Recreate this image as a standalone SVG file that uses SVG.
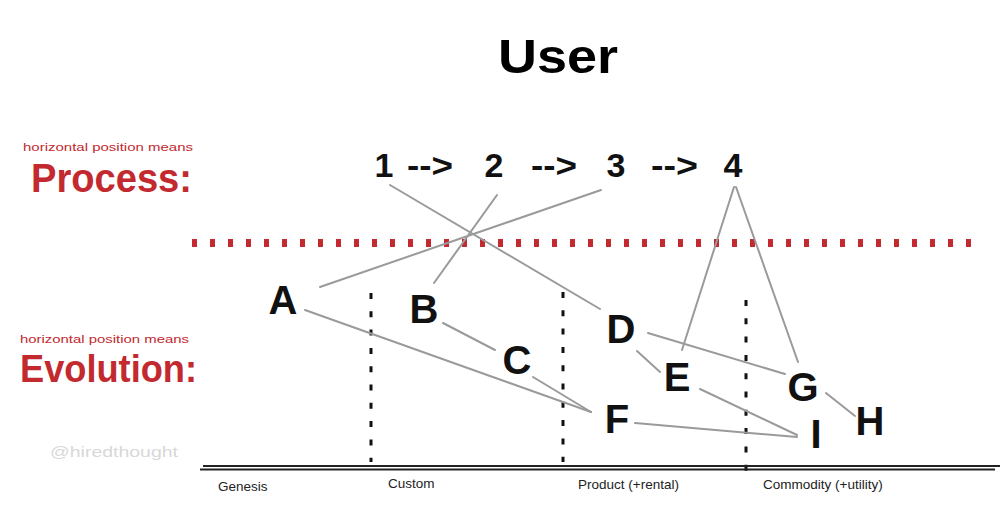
<svg xmlns="http://www.w3.org/2000/svg" width="1001" height="515" viewBox="0 0 1001 515">
<style>
.node{font-family:"Liberation Sans","DejaVu Sans",sans-serif;font-size:40px;font-weight:bold;fill:#111;text-anchor:middle}
.proc{font-family:"Liberation Sans","DejaVu Sans",sans-serif;font-size:34px;font-weight:bold;fill:#111}
.red{font-family:"Liberation Sans","DejaVu Sans",sans-serif;fill:#c22a2f}
.axis{font-family:"Liberation Sans","DejaVu Sans",sans-serif;font-size:13.5px;fill:#222}
.conn{stroke:#9a9a9a;stroke-width:2;fill:none;stroke-linecap:round}
.vdash{stroke:#111;stroke-width:3;stroke-dasharray:6 12.3;fill:none}
</style>
<rect width="1001" height="515" fill="#fff"/>
<text x="558" y="73" font-family="Liberation Sans, DejaVu Sans, sans-serif" font-size="48" font-weight="bold" fill="#000" text-anchor="middle" textLength="120" lengthAdjust="spacingAndGlyphs">User</text>
<g id="labels">
<text class="red" x="23" y="151" font-size="11" textLength="170" lengthAdjust="spacingAndGlyphs">horizontal position means</text>
<text class="red" x="31" y="192" font-size="40" font-weight="bold" textLength="161" lengthAdjust="spacingAndGlyphs">Process:</text>
<text class="red" x="20" y="343" font-size="11" textLength="169" lengthAdjust="spacingAndGlyphs">horizontal position means</text>
<text class="red" x="20" y="382" font-size="38" font-weight="bold" textLength="177" lengthAdjust="spacingAndGlyphs">Evolution:</text>
<text x="50" y="457" font-family="Liberation Sans, DejaVu Sans, sans-serif" font-size="15" fill="#d8d8d8" textLength="128" lengthAdjust="spacingAndGlyphs">@hiredthought</text>
</g>
<line x1="192" y1="243" x2="975" y2="243" stroke="#c22a2f" stroke-width="8" stroke-dasharray="5 13"/>
<g id="evolution-axis">
<line class="vdash" x1="371" y1="293" x2="371" y2="462"/>
<line class="vdash" x1="563" y1="292" x2="563" y2="462"/>
<line class="vdash" x1="746" y1="300" x2="746" y2="472"/>
<line x1="203" y1="466" x2="1000" y2="466" stroke="#222" stroke-width="1.8"/>
<line x1="200" y1="469.5" x2="995" y2="469.5" stroke="#222" stroke-width="1.8"/>
<text class="axis" x="218" y="491">Genesis</text>
<text class="axis" x="388" y="488">Custom</text>
<text class="axis" x="578" y="489">Product (+rental)</text>
<text class="axis" x="763" y="489">Commodity (+utility)</text>
</g>
<g id="connectors">
<line class="conn" x1="390" y1="185" x2="600" y2="309"/>
<line class="conn" x1="497" y1="195" x2="434" y2="283"/>
<line class="conn" x1="601" y1="190" x2="320" y2="287"/>
<line class="conn" x1="734" y1="187" x2="682" y2="350"/>
<line class="conn" x1="736" y1="187" x2="798" y2="362"/>
<line class="conn" x1="305" y1="310" x2="591" y2="412"/>
<line class="conn" x1="443" y1="323" x2="495" y2="350"/>
<line class="conn" x1="533" y1="377" x2="591" y2="412"/>
<line class="conn" x1="648" y1="333" x2="785" y2="374"/>
<line class="conn" x1="637" y1="351" x2="660" y2="372"/>
<line class="conn" x1="700" y1="389" x2="797" y2="435"/>
<line class="conn" x1="635" y1="423" x2="797" y2="437"/>
<line class="conn" x1="826" y1="393" x2="855" y2="416"/>
</g>
<g id="process-arrows">
<text class="proc" x="407" y="177" textLength="46" lengthAdjust="spacingAndGlyphs">--&gt;</text>
<text class="proc" x="531" y="177" textLength="46" lengthAdjust="spacingAndGlyphs">--&gt;</text>
<text class="proc" x="651" y="177" textLength="47" lengthAdjust="spacingAndGlyphs">--&gt;</text>
</g>
<g id="n1"><text class="proc" x="384" y="177" text-anchor="middle">1</text></g>
<g id="n2"><text class="proc" x="494" y="177" text-anchor="middle">2</text></g>
<g id="n3"><text class="proc" x="616" y="177" text-anchor="middle">3</text></g>
<g id="n4"><text class="proc" x="733" y="177" text-anchor="middle">4</text></g>
<g id="A"><text class="node" x="283" y="314">A</text></g>
<g id="B"><text class="node" x="424" y="323">B</text></g>
<g id="C"><text class="node" x="517" y="374">C</text></g>
<g id="D"><text class="node" x="621" y="343">D</text></g>
<g id="E"><text class="node" x="677" y="391">E</text></g>
<g id="F"><text class="node" x="617" y="433">F</text></g>
<g id="G"><text class="node" x="803" y="401">G</text></g>
<g id="H"><text class="node" x="870" y="435">H</text></g>
<g id="I"><text class="node" x="816" y="448">I</text></g>
</svg>
